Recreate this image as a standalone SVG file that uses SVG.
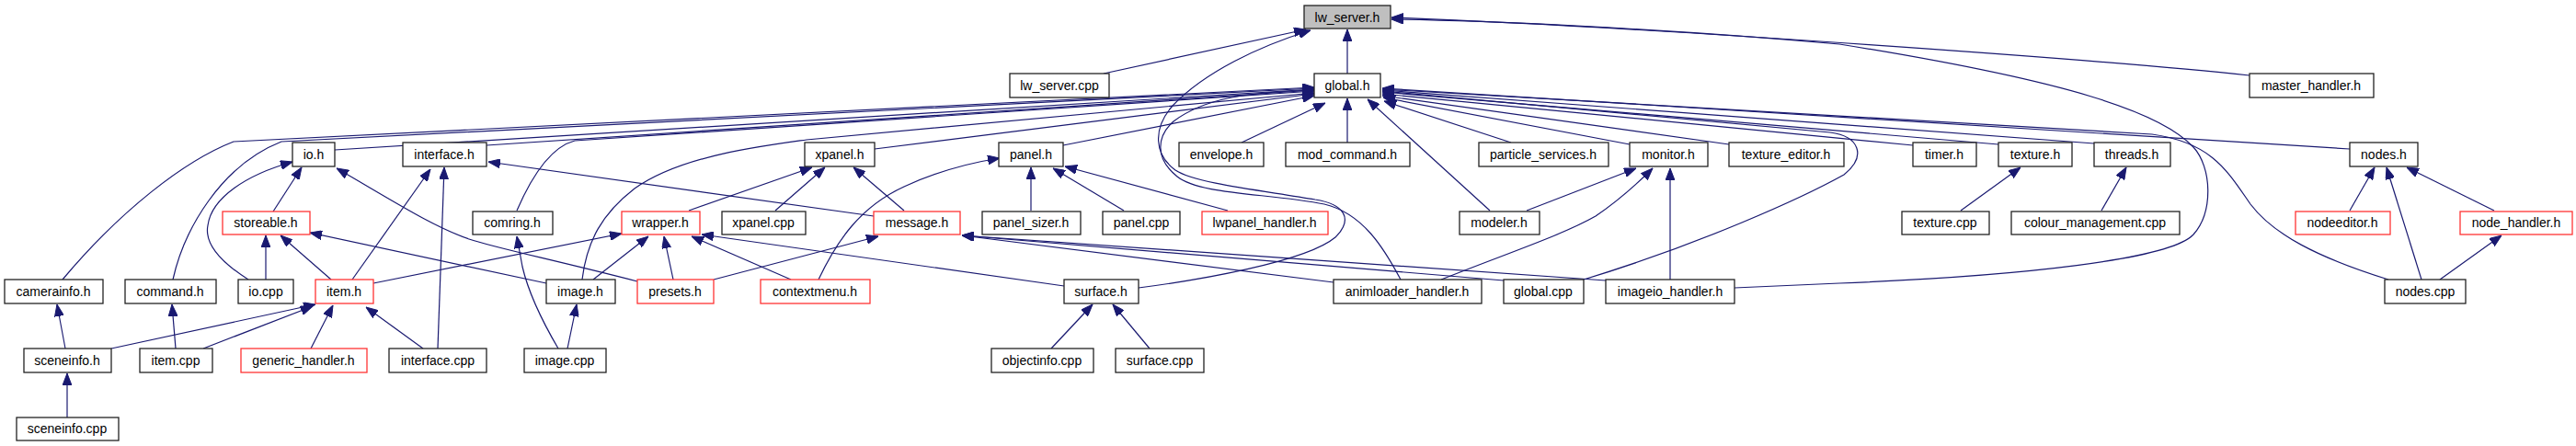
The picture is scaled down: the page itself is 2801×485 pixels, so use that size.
<svg xmlns="http://www.w3.org/2000/svg" width="2801" height="485" viewBox="0 0 2801 485">
<style>
.n rect{fill:#fff;stroke:#222;stroke-width:1.3}
.r rect{fill:#fff;stroke:#ff3333;stroke-width:1.3}
.g rect{fill:#bfbfbf;stroke:#222;stroke-width:1.3}
text{font-family:"Liberation Sans",Arial,sans-serif;font-size:14px;fill:#000;text-anchor:middle}
#edges path{fill:none;stroke:#191970;stroke-width:1.2;marker-end:url(#arr)}
</style>
<defs>
<marker id="arr" markerUnits="userSpaceOnUse" viewBox="0 0 13 10" refX="13" refY="5" markerWidth="13" markerHeight="10" orient="auto">
<path d="M0,0 L13,5 L0,10 z" fill="#191970" stroke="#191970" stroke-width="1"/>
</marker>
</defs>
<rect width="2801" height="485" fill="#fff"/>
<g id="edges">
<path d="M1200,80 L1420,32"/>
<path d="M1465,80 L1465,32"/>
<path d="M1238,313 C1300,305 1420,285 1452,258 C1472,238 1462,222 1430,217 C1380,208 1300,200 1278,185 C1255,168 1253,140 1275,115 C1310,78 1370,50 1425,33"/>
<path d="M1523,304 C1505,270 1482,232 1440,222 C1380,210 1305,212 1280,192 C1255,172 1258,148 1276,132 C1310,106 1360,100 1429,98"/>
<path d="M2446,82 C2300,66 1800,30 1513,19"/>
<path d="M1886,313 L2000,308 C2200,300 2360,282 2385,255 C2407,230 2405,182 2385,160 C2350,122 2250,88 2000,48 C1800,30 1600,22 1513,21"/>
<path d="M68,304 C130,230 200,175 254,154 L1429,95"/>
<path d="M188,304 C200,250 240,180 306,154 L1429,96"/>
<path d="M364,163 L1429,97"/>
<path d="M529,158 L1429,98"/>
<path d="M562,229 C578,192 598,160 625,153 L1429,99"/>
<path d="M633,304 C638,262 655,232 690,205 C740,170 820,160 877,152 L1429,101"/>
<path d="M951,162 L1429,102"/>
<path d="M1156,158 L1429,104"/>
<path d="M1350,155 L1441,112"/>
<path d="M1465,155 L1465,107"/>
<path d="M1620,229 L1487,108"/>
<path d="M1643,155 L1505,110"/>
<path d="M1772,157 L1504,106"/>
<path d="M1880,157 L1503,104"/>
<path d="M2080,158 L1503,102"/>
<path d="M2173,157 L1503,100"/>
<path d="M2277,156 L1503,98"/>
<path d="M2555,162 L1503,96"/>
<path d="M2597,304 C2520,280 2472,255 2447,222 C2422,186 2405,155 2340,146 L1503,97"/>
<path d="M1722,304 C1850,265 1960,215 2005,190 C2030,170 2022,148 1990,144 L1503,99"/>
<path d="M1660,229 L1779,183"/>
<path d="M1567,304 C1640,275 1700,255 1735,235 C1760,218 1780,200 1797,183"/>
<path d="M1816,304 L1816,183"/>
<path d="M1450,307 L1046,256"/>
<path d="M1635,305 L1046,256"/>
<path d="M1746,305 L1046,256"/>
<path d="M776,304 L955,257"/>
<path d="M950,235 L531,176"/>
<path d="M983,229 L928,182"/>
<path d="M749,229 L883,182"/>
<path d="M843,229 L897,182"/>
<path d="M890,304 C910,262 935,225 983,203 C1020,186 1055,177 1087,172"/>
<path d="M1121,229 L1121,182"/>
<path d="M1222,229 L1145,183"/>
<path d="M1335,229 L1158,181"/>
<path d="M860,304 L752,257"/>
<path d="M1157,311 L763,255"/>
<path d="M645,304 L705,257"/>
<path d="M732,304 L722,257"/>
<path d="M406,308 L676,254"/>
<path d="M594,308 L337,253"/>
<path d="M383,304 L468,184"/>
<path d="M693,306 C600,282 540,270 510,260 C470,246 430,220 366,183"/>
<path d="M297,230 L328,182"/>
<path d="M270,304 C240,285 222,265 226,245 C230,215 268,190 318,176"/>
<path d="M289,304 L289,256"/>
<path d="M360,304 L305,256"/>
<path d="M476,379 L483,182"/>
<path d="M460,379 L398,334"/>
<path d="M121,379 L343,331"/>
<path d="M221,379 L340,333"/>
<path d="M338,379 L362,332"/>
<path d="M71,379 L62,331"/>
<path d="M191,379 L187,331"/>
<path d="M73,454 L73,406"/>
<path d="M617,379 L627,331"/>
<path d="M607,379 C590,350 575,320 568,290 L562,257"/>
<path d="M1143,379 L1188,331"/>
<path d="M1250,379 L1210,331"/>
<path d="M2132,229 L2197,182"/>
<path d="M2285,229 L2312,182"/>
<path d="M2555,229 L2582,182"/>
<path d="M2633,304 L2595,182"/>
<path d="M2712,229 L2617,182"/>
<path d="M2653,304 L2720,256"/>
</g>
<g id="lw_server_h" class="g"><rect x="1418" y="6" width="94" height="25"/><text x="1465" y="24">lw_server.h</text></g>
<g id="lw_server_cpp" class="n"><rect x="1098" y="80" width="108" height="26"/><text x="1152" y="98">lw_server.cpp</text></g>
<g id="global_h" class="n"><rect x="1429" y="80" width="72" height="26"/><text x="1465" y="98">global.h</text></g>
<g id="master_handler_h" class="n"><rect x="2446" y="80" width="135" height="26"/><text x="2513" y="98">master_handler.h</text></g>
<g id="io_h" class="n"><rect x="318" y="155" width="46" height="26"/><text x="341" y="173">io.h</text></g>
<g id="interface_h" class="n"><rect x="438" y="155" width="91" height="26"/><text x="483" y="173">interface.h</text></g>
<g id="xpanel_h" class="n"><rect x="875" y="155" width="76" height="26"/><text x="913" y="173">xpanel.h</text></g>
<g id="panel_h" class="n"><rect x="1086" y="155" width="70" height="26"/><text x="1121" y="173">panel.h</text></g>
<g id="envelope_h" class="n"><rect x="1282" y="155" width="92" height="26"/><text x="1328" y="173">envelope.h</text></g>
<g id="mod_command_h" class="n"><rect x="1398" y="155" width="135" height="26"/><text x="1465" y="173">mod_command.h</text></g>
<g id="particle_services_h" class="n"><rect x="1608" y="155" width="141" height="26"/><text x="1678" y="173">particle_services.h</text></g>
<g id="monitor_h" class="n"><rect x="1772" y="155" width="85" height="26"/><text x="1814" y="173">monitor.h</text></g>
<g id="texture_editor_h" class="n"><rect x="1880" y="155" width="125" height="26"/><text x="1942" y="173">texture_editor.h</text></g>
<g id="timer_h" class="n"><rect x="2080" y="155" width="69" height="26"/><text x="2114" y="173">timer.h</text></g>
<g id="texture_h" class="n"><rect x="2173" y="155" width="80" height="26"/><text x="2213" y="173">texture.h</text></g>
<g id="threads_h" class="n"><rect x="2277" y="155" width="83" height="26"/><text x="2318" y="173">threads.h</text></g>
<g id="nodes_h" class="n"><rect x="2555" y="155" width="74" height="26"/><text x="2592" y="173">nodes.h</text></g>
<g id="storeable_h" class="r"><rect x="242" y="230" width="95" height="25"/><text x="289" y="247">storeable.h</text></g>
<g id="comring_h" class="n"><rect x="514" y="230" width="87" height="25"/><text x="557" y="247">comring.h</text></g>
<g id="wrapper_h" class="r"><rect x="676" y="230" width="85" height="25"/><text x="718" y="247">wrapper.h</text></g>
<g id="xpanel_cpp" class="n"><rect x="785" y="230" width="91" height="25"/><text x="830" y="247">xpanel.cpp</text></g>
<g id="message_h" class="r"><rect x="950" y="230" width="94" height="25"/><text x="997" y="247">message.h</text></g>
<g id="panel_sizer_h" class="n"><rect x="1068" y="230" width="107" height="25"/><text x="1121" y="247">panel_sizer.h</text></g>
<g id="panel_cpp" class="n"><rect x="1199" y="230" width="84" height="25"/><text x="1241" y="247">panel.cpp</text></g>
<g id="lwpanel_handler_h" class="r"><rect x="1307" y="230" width="137" height="25"/><text x="1375" y="247">lwpanel_handler.h</text></g>
<g id="modeler_h" class="n"><rect x="1587" y="230" width="87" height="25"/><text x="1630" y="247">modeler.h</text></g>
<g id="texture_cpp" class="n"><rect x="2068" y="230" width="95" height="25"/><text x="2115" y="247">texture.cpp</text></g>
<g id="colour_management_cpp" class="n"><rect x="2187" y="230" width="183" height="25"/><text x="2278" y="247">colour_management.cpp</text></g>
<g id="nodeeditor_h" class="r"><rect x="2496" y="230" width="103" height="25"/><text x="2547" y="247">nodeeditor.h</text></g>
<g id="node_handler_h" class="r"><rect x="2675" y="230" width="122" height="25"/><text x="2736" y="247">node_handler.h</text></g>
<g id="camerainfo_h" class="n"><rect x="5" y="304" width="107" height="26"/><text x="58" y="322">camerainfo.h</text></g>
<g id="command_h" class="n"><rect x="136" y="304" width="99" height="26"/><text x="185" y="322">command.h</text></g>
<g id="io_cpp" class="n"><rect x="259" y="304" width="60" height="26"/><text x="289" y="322">io.cpp</text></g>
<g id="item_h" class="r"><rect x="343" y="304" width="63" height="26"/><text x="374" y="322">item.h</text></g>
<g id="image_h" class="n"><rect x="594" y="304" width="75" height="26"/><text x="631" y="322">image.h</text></g>
<g id="presets_h" class="r"><rect x="693" y="304" width="83" height="26"/><text x="734" y="322">presets.h</text></g>
<g id="contextmenu_h" class="r"><rect x="827" y="304" width="119" height="26"/><text x="886" y="322">contextmenu.h</text></g>
<g id="surface_h" class="n"><rect x="1157" y="304" width="81" height="26"/><text x="1197" y="322">surface.h</text></g>
<g id="animloader_handler_h" class="n"><rect x="1450" y="304" width="161" height="26"/><text x="1530" y="322">animloader_handler.h</text></g>
<g id="global_cpp" class="n"><rect x="1635" y="304" width="87" height="26"/><text x="1678" y="322">global.cpp</text></g>
<g id="imageio_handler_h" class="n"><rect x="1746" y="304" width="140" height="26"/><text x="1816" y="322">imageio_handler.h</text></g>
<g id="nodes_cpp" class="n"><rect x="2593" y="304" width="88" height="26"/><text x="2637" y="322">nodes.cpp</text></g>
<g id="sceneinfo_h" class="n"><rect x="26" y="379" width="95" height="26"/><text x="73" y="397">sceneinfo.h</text></g>
<g id="item_cpp" class="n"><rect x="152" y="379" width="79" height="26"/><text x="191" y="397">item.cpp</text></g>
<g id="generic_handler_h" class="r"><rect x="262" y="379" width="137" height="26"/><text x="330" y="397">generic_handler.h</text></g>
<g id="interface_cpp" class="n"><rect x="423" y="379" width="106" height="26"/><text x="476" y="397">interface.cpp</text></g>
<g id="image_cpp" class="n"><rect x="570" y="379" width="89" height="26"/><text x="614" y="397">image.cpp</text></g>
<g id="objectinfo_cpp" class="n"><rect x="1078" y="379" width="111" height="26"/><text x="1133" y="397">objectinfo.cpp</text></g>
<g id="surface_cpp" class="n"><rect x="1213" y="379" width="96" height="26"/><text x="1261" y="397">surface.cpp</text></g>
<g id="sceneinfo_cpp" class="n"><rect x="18" y="454" width="111" height="25"/><text x="73" y="471">sceneinfo.cpp</text></g>
</svg>
